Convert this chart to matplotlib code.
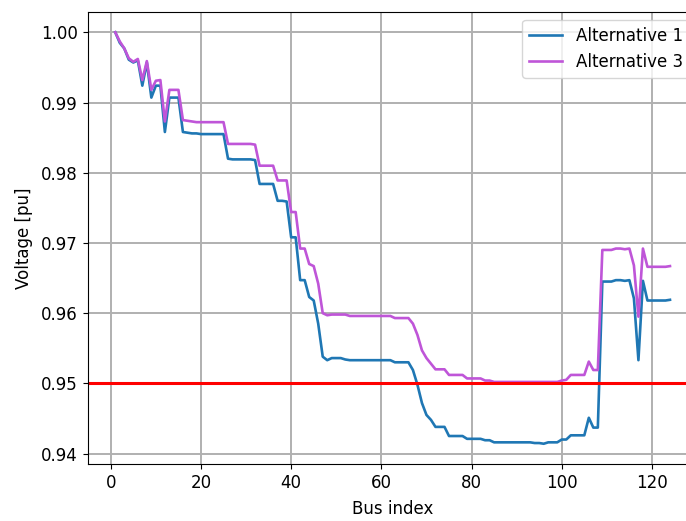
import matplotlib

matplotlib.use("Agg")
import matplotlib.pyplot as plt
import numpy as np

# bus voltage profile (pu) for two feeder alternatives, buses 1..124
bus_index = np.arange(1, 125)

alternative_1 = [
    1.0000, 0.9985, 0.9977, 0.9961, 0.9957, 0.9960, 0.9924, 0.9957, 0.9907, 0.9924,
    0.9924, 0.9858, 0.9907, 0.9907, 0.9907, 0.9858, 0.9857, 0.9856, 0.9856, 0.9855,
    0.9855, 0.9855, 0.9855, 0.9855, 0.9855, 0.9820, 0.9819, 0.9819, 0.9819, 0.9819,
    0.9819, 0.9818, 0.9784, 0.9784, 0.9784, 0.9784, 0.9760, 0.9760, 0.9759, 0.9708,
    0.9708, 0.9647, 0.9647, 0.9623, 0.9618, 0.9585, 0.9538, 0.9533, 0.9536, 0.9536,
    0.9536, 0.9534, 0.9533, 0.9533, 0.9533, 0.9533, 0.9533, 0.9533, 0.9533, 0.9533,
    0.9533, 0.9533, 0.9530, 0.9530, 0.9530, 0.9530, 0.9519, 0.9498, 0.9472, 0.9455,
    0.9448, 0.9438, 0.9438, 0.9438, 0.9425, 0.9425, 0.9425, 0.9425, 0.9421, 0.9421,
    0.9421, 0.9421, 0.9419, 0.9419, 0.9416, 0.9416, 0.9416, 0.9416, 0.9416, 0.9416,
    0.9416, 0.9416, 0.9416, 0.9415, 0.9415, 0.9414, 0.9416, 0.9416, 0.9416, 0.9420,
    0.9420, 0.9426, 0.9426, 0.9426, 0.9426, 0.9451, 0.9437, 0.9437, 0.9645, 0.9645,
    0.9645, 0.9647, 0.9647, 0.9646, 0.9647, 0.9621, 0.9533, 0.9646, 0.9618, 0.9618,
    0.9618, 0.9618, 0.9618, 0.9619,
]

alternative_3 = [
    1.0000, 0.9987, 0.9977, 0.9963, 0.9958, 0.9962, 0.9932, 0.9959, 0.9918, 0.9931,
    0.9932, 0.9873, 0.9918, 0.9918, 0.9918, 0.9875, 0.9874, 0.9873, 0.9872, 0.9872,
    0.9872, 0.9872, 0.9872, 0.9872, 0.9872, 0.9841, 0.9841, 0.9841, 0.9841, 0.9841,
    0.9841, 0.9840, 0.9810, 0.9810, 0.9810, 0.9810, 0.9789, 0.9789, 0.9789, 0.9744,
    0.9744, 0.9692, 0.9692, 0.9670, 0.9667, 0.9642, 0.9600, 0.9597, 0.9598, 0.9598,
    0.9598, 0.9598, 0.9596, 0.9596, 0.9596, 0.9596, 0.9596, 0.9596, 0.9596, 0.9596,
    0.9596, 0.9596, 0.9593, 0.9593, 0.9593, 0.9593, 0.9585, 0.9569, 0.9547, 0.9536,
    0.9528, 0.9520, 0.9520, 0.9520, 0.9512, 0.9512, 0.9512, 0.9512, 0.9507, 0.9507,
    0.9507, 0.9507, 0.9504, 0.9504, 0.9502, 0.9502, 0.9502, 0.9502, 0.9502, 0.9502,
    0.9502, 0.9502, 0.9502, 0.9502, 0.9502, 0.9502, 0.9502, 0.9502, 0.9502, 0.9504,
    0.9505, 0.9512, 0.9512, 0.9512, 0.9512, 0.9531, 0.9519, 0.9519, 0.9690, 0.9690,
    0.9690, 0.9692, 0.9692, 0.9691, 0.9692, 0.9668, 0.9595, 0.9692, 0.9666, 0.9666,
    0.9666, 0.9666, 0.9666, 0.9667,
]

voltage_limit = 0.95

plt.rcParams["font.size"] = 12

figure = plt.figure(figsize=(6.86, 5.21), dpi=100)
# axes run past the right edge of the canvas on purpose
axis = figure.add_axes([0.1276, 0.1088, 0.8895, 0.8687])
axis.plot(bus_index, alternative_1, color="#1f77b4", linewidth=1.9, label="Alternative 1")
axis.plot(bus_index, alternative_3, color="#bf55d8", linewidth=1.9, label="Alternative 3")
axis.axhline(voltage_limit, color="red", linewidth=2.2)
axis.grid(True, color="#b0b0b0", linewidth=1.4)
axis.set_xlabel("Bus index", labelpad=6)
axis.set_ylabel("Voltage [pu]", labelpad=6)
axis.set_yticks([0.94, 0.95, 0.96, 0.97, 0.98, 0.99, 1.00])
axis.legend(loc="upper right", fontsize=12)
figure.savefig("out.png", dpi=100)
plt.close(figure)
